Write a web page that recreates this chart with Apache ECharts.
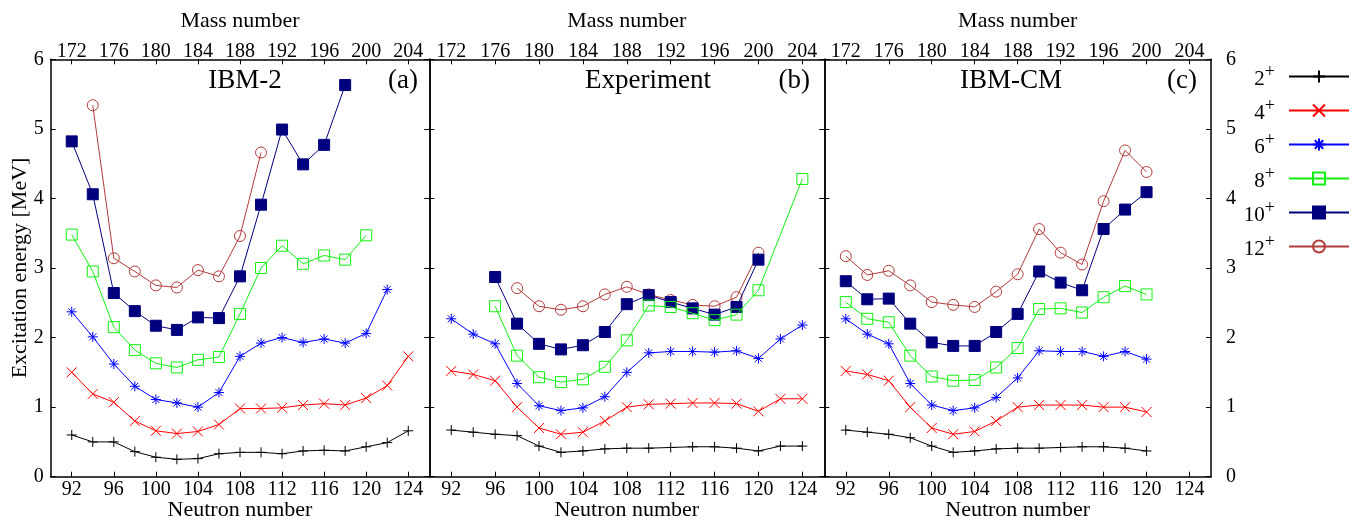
<!DOCTYPE html>
<html>
<head>
<meta charset="utf-8">
<script src="https://cdn.jsdelivr.net/npm/echarts@6/dist/echarts.min.js"></script>
<style>
html,body{margin:0;padding:0;background:#fff;}
#chart{width:1370px;height:521px;}
</style>
</head>
<body>
<div id="chart"></div>
<script>
// ---- data ----
const neutron = [92,94,96,98,100,102,104,106,108,110,112,114,116,118,120,122,124];
const neutronTicks = [92,96,100,104,108,112,116,120,124];
const massTicks = [172,176,180,184,188,192,196,200,204];
const states = ['2+','4+','6+','8+','10+','12+'];
const panelTitles = ['IBM-2','Experiment','IBM-CM'];
const panelTags = ['(a)','(b)','(c)'];

// Panel (a) IBM-2
const a2  = [0.60,0.50,0.50,0.36,0.28,0.25,0.26,0.33,0.35,0.35,0.33,0.37,0.38,0.37,0.43,0.49,0.66];
const a4  = [1.50,1.19,1.07,0.80,0.66,0.62,0.65,0.75,0.98,0.98,0.99,1.03,1.05,1.03,1.13,1.31,1.73];
const a6  = [2.37,2.01,1.62,1.30,1.11,1.06,1.00,1.21,1.73,1.92,2.00,1.93,1.98,1.92,2.06,2.69,null];
const a8  = [3.48,2.95,2.15,1.82,1.63,1.57,1.68,1.72,2.34,3.00,3.32,3.06,3.18,3.12,3.47,null,null];
const a10 = [4.82,4.06,2.64,2.38,2.17,2.11,2.29,2.28,2.88,3.91,4.99,4.49,4.77,5.63,null,null,null];
const a12 = [null,5.34,3.14,2.95,2.75,2.72,2.97,2.88,3.46,4.66,null,null,null,null,null,null,null];

// Panel (b) Experiment
const b2  = [0.67,0.64,0.61,0.59,0.44,0.35,0.37,0.40,0.41,0.41,0.42,0.43,0.43,0.41,0.37,0.44,0.44];
const b4  = [1.52,1.47,1.38,1.00,0.70,0.61,0.64,0.80,1.00,1.04,1.05,1.06,1.06,1.05,0.94,1.12,1.12];
const b6  = [2.27,2.05,1.91,1.34,1.02,0.95,0.99,1.15,1.50,1.78,1.80,1.80,1.79,1.81,1.70,1.98,2.18];
const b8  = [null,null,2.45,1.74,1.43,1.36,1.40,1.58,1.96,2.46,2.44,2.35,2.25,2.33,2.68,null,4.28];
const b10 = [null,null,2.87,2.20,1.91,1.83,1.89,2.08,2.48,2.61,2.51,2.42,2.33,2.44,3.12,null,null];
const b12 = [null,null,null,2.71,2.45,2.40,2.45,2.62,2.73,2.62,2.54,2.47,2.45,2.58,3.22,null,null];

// Panel (c) IBM-CM
const c2  = [0.67,0.64,0.61,0.56,0.44,0.35,0.37,0.40,0.41,0.41,0.42,0.43,0.43,0.41,0.37,null,null];
const c4  = [1.52,1.47,1.38,1.00,0.70,0.61,0.65,0.80,1.00,1.03,1.03,1.03,1.00,1.00,0.93,null,null];
const c6  = [2.27,2.05,1.91,1.34,1.03,0.95,0.99,1.14,1.42,1.81,1.80,1.80,1.73,1.80,1.69,null,null];
const c8  = [2.51,2.27,2.22,1.74,1.44,1.38,1.39,1.57,1.85,2.41,2.42,2.36,2.58,2.74,2.62,null,null];
const c10 = [2.81,2.55,2.56,2.20,1.93,1.88,1.88,2.08,2.34,2.95,2.79,2.68,3.56,3.84,4.09,null,null];
const c12 = [3.17,2.90,2.96,2.75,2.51,2.47,2.44,2.66,2.91,3.56,3.22,3.05,3.96,4.69,4.38,null,null];

const panels = [[a2,a4,a6,a8,a10,a12],[b2,b4,b6,b8,b10,b12],[c2,c4,c6,c8,c10,c12]];

// ---- styles ----
const FONT = 'Liberation Serif';
const colors = ['#000000','#ff0000','#0000ff','#10f010','#00007f','#b23b3b'];
const symbols = [
  'path://M0,5L10,5M5,0L5,10',
  'path://M0,0L10,10M10,0L0,10',
  'path://M0,5L10,5M5,0L5,10M1.5,1.5L8.5,8.5M8.5,1.5L1.5,8.5',
  'path://M0,0L10,0L10,10L0,10Z',
  'rect',
  'circle'
];
const symSizes = [10,10,10,11,11,11];
const fills = ['rgba(0,0,0,0)','rgba(0,0,0,0)','rgba(0,0,0,0)','rgba(0,0,0,0)','#00007f','rgba(0,0,0,0)'];

const grids = [
  {left:50.7, top:59.3, width:378.6, height:417.4, outerBoundsMode:'none', containLabel:false},
  {left:429.3, top:59.3, width:395, height:417.4, outerBoundsMode:'none', containLabel:false},
  {left:824.3, top:59.3, width:386.7, height:417.4, outerBoundsMode:'none', containLabel:false}
];

const axisLine = {show:true, onZero:false, lineStyle:{color:'#000', width:1.5}};
const tickStyle = {color:'#000', width:1};
const labelStyle = {color:'#000', fontFamily:FONT, fontSize:20};
const nameStyle = {color:'#000', fontFamily:FONT, fontSize:22};

const xAxes = [], yAxes = [], series = [], titles = [];
grids.forEach((g, i) => {
  xAxes.push({
    gridIndex:i, type:'value', position:'bottom', min:90, max:126,
    axisLine, splitLine:{show:false},
    axisTick:{show:true, inside:true, length:5, customValues:neutronTicks, lineStyle:tickStyle},
    axisLabel:Object.assign({customValues:neutronTicks, margin:3}, labelStyle),
    name:'Neutron number', nameLocation:'middle', nameGap:23, nameMoveOverlap:false, nameTextStyle:nameStyle
  });
  xAxes.push({
    gridIndex:i, type:'value', position:'top', min:170, max:206,
    axisLine, splitLine:{show:false},
    axisTick:{show:true, inside:true, length:5, customValues:massTicks, lineStyle:tickStyle},
    axisLabel:Object.assign({customValues:massTicks, margin:-2}, labelStyle),
    name:'Mass number', nameLocation:'middle', nameGap:27, nameMoveOverlap:false, nameTextStyle:nameStyle
  });
  yAxes.push({
    gridIndex:i, type:'value', position:'left', min:0, max:6, interval:1,
    axisLine, splitLine:{show:false},
    axisTick:{show:true, inside:true, length:5, lineStyle:tickStyle},
    axisLabel:Object.assign({show:i===0, margin:7}, labelStyle),
    name: i===0 ? 'Excitation energy [MeV]' : '', nameLocation:'middle', nameGap:19, nameMoveOverlap:false, nameTextStyle:nameStyle
  });
  yAxes.push({
    gridIndex:i, type:'value', position:'right', min:0, max:6, interval:1,
    axisLine, splitLine:{show:false},
    axisTick:{show:true, inside:true, length:5, lineStyle:tickStyle},
    axisLabel:Object.assign({show:i===2, margin:15}, labelStyle)
  });
  panels[i].forEach((vals, j) => {
    const data = [];
    vals.forEach((v, k) => { if (v !== null) data.push([neutron[k], v]); });
    series.push({
      type:'line', name:states[j], xAxisIndex:2*i, yAxisIndex:2*i,
      data, symbol:symbols[j], symbolSize:symSizes[j], showSymbol:true,
      itemStyle:{color:fills[j], borderColor:colors[j], borderWidth:1},
      lineStyle:{color:colors[j], width:1},
      emphasis:{disabled:true}, animation:false, z:10-j
    });
  });
});

const titleCenters = [245, 648, 1011];
const tagRights = [418, 810, 1197];
panelTitles.forEach((t, i) => {
  titles.push({text:t, left:titleCenters[i], top:67, textAlign:'center', padding:0,
    textStyle:{fontFamily:FONT, fontSize:27, fontWeight:'normal', color:'#000'}});
  titles.push({text:panelTags[i], right:1370 - tagRights[i], top:67, padding:0,
    textStyle:{fontFamily:FONT, fontSize:27, fontWeight:'normal', color:'#000'}});
});

const option = {
  backgroundColor:'#fff',
  animation:false,
  title:titles,
  grid:grids,
  xAxis:xAxes,
  yAxis:yAxes,
  legend:{
    data:states, orient:'vertical', align:'right', right:20, top:63, padding:0,
    itemWidth:60, itemHeight:15, itemGap:7, selectedMode:false,
    formatter:(name) => '{n|' + name.replace('+','') + '}{s|+}',
    textStyle:{color:'#000', fontFamily:FONT, fontSize:20,
      rich:{
        n:{fontFamily:FONT, fontSize:21, color:'#000', lineHeight:20, padding:[6,0,0,0]},
        s:{fontFamily:FONT, fontSize:18, color:'#000', lineHeight:17, padding:[0,9,9,0]}
      }}
  },
  series
};

const chart = echarts.init(document.getElementById('chart'), null, {renderer:'canvas'});
chart.setOption(option);
</script>
</body>
</html>
